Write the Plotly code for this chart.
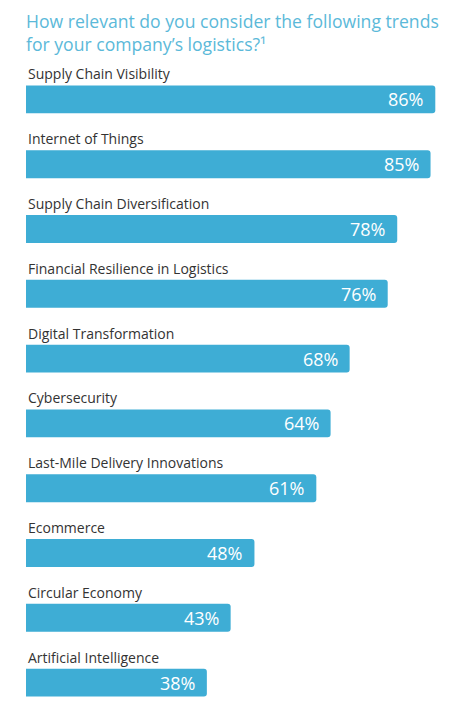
import plotly.graph_objects as go

# survey results, top to bottom
trends = ["Supply Chain Visibility", "Internet of Things", "Supply Chain Diversification",
          "Financial Resilience in Logistics", "Digital Transformation", "Cybersecurity",
          "Last-Mile Delivery Innovations", "Ecommerce", "Circular Economy",
          "Artificial Intelligence"]
relevance = [86, 85, 78, 76, 68, 64, 61, 48, 43, 38]

title = "How relevant do you consider the following trends<br>for your company’s logistics?¹"

BAR = "#3eadd5"
FONT = "Open Sans"

fig = go.Figure(go.Bar(
    x=relevance,
    y=trends,
    orientation="h",
    width=0.43,
    marker=dict(color=BAR, cornerradius=3, line=dict(width=0)),
    hoverinfo="skip",
))

# category names sit above each bar
for t in trends:
    fig.add_annotation(x=0, y=t, text=t, showarrow=False,
                       xanchor="left", yanchor="bottom", yshift=14,
                       font=dict(family=FONT, size=14, color="#333333"))

# percentage labels inside bar ends
for t, v in zip(trends, relevance):
    fig.add_annotation(x=v, y=t, text=f"{v}%", showarrow=False,
                       xanchor="right", yanchor="middle", xshift=-10,
                       font=dict(family=FONT, size=18, color="white"))

# title as annotation (page body adds 8px margin, so figure is shrunk by 8)
fig.add_annotation(x=0, y=1, xref="paper", yref="paper", text=title,
                   showarrow=False, xanchor="left", yanchor="bottom", yshift=9,
                   xshift=-2, align="left",
                   font=dict(family=FONT, size=17.6, color="#5bb9d9"))

fig.update_layout(
    width=463, height=712,
    margin=dict(l=18, r=0, t=59, b=5),
    paper_bgcolor="white", plot_bgcolor="white",
    showlegend=False,
    xaxis=dict(range=[0, 93.5], visible=False, fixedrange=True),
    yaxis=dict(categoryorder="array", categoryarray=trends,
               range=[9.5, -0.5], visible=False, fixedrange=True),
)

fig.write_html("out.html")
